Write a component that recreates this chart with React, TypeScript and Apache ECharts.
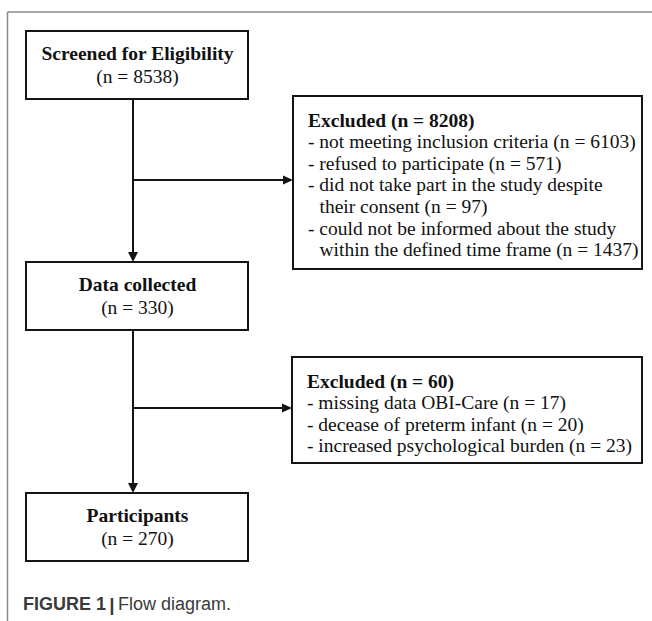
import React, { useEffect, useRef } from "react";
import * as echarts from "echarts";

// ---- data ----
const stageTitles = ["Screened for Eligibility", "Data collected", "Participants"];
const stageCounts = [8538, 330, 270];
const exclusionTotals = [8208, 60];
const exclusionReasons1 = [
  ["not meeting inclusion criteria (n = 6103)"],
  ["refused to participate (n = 571)"],
  ["did not take part in the study despite", "their consent (n = 97)"],
  ["could not be informed about the study", "within the defined time frame (n = 1437)"],
];
const exclusionReasons2 = [
  ["missing data OBI-Care (n = 17)"],
  ["decease of preterm infant (n = 20)"],
  ["increased psychological burden (n = 23)"],
];
const captionBold = "FIGURE 1";
const captionText = "Flow diagram.";

const SERIF = "'Liberation Serif', 'Times New Roman', serif";
const SANS = "'Liberation Sans', Arial, sans-serif";

export default function App() {
  const ref = useRef<HTMLDivElement>(null);
  useEffect(() => {
    if (!ref.current) return;
    const chart = echarts.init(ref.current, undefined, { renderer: "svg" });
    const els: any[] = [];
    const stroke = "#141414";
    const fs = 19.5;
    const lh = 21.6;

    // outer frame
    els.push({ type: "line", shape: { x1: 7.5, y1: 12, x2: 652, y2: 12 }, style: { stroke: "#8a8a8a", lineWidth: 1.5 } });
    els.push({ type: "line", shape: { x1: 7.5, y1: 12, x2: 7.5, y2: 621 }, style: { stroke: "#8a8a8a", lineWidth: 1.5 } });

    // main boxes
    const boxX = 26, boxW = 222, boxH = 68;
    const tops = [31, 262, 493];
    const lineX = 133;
    stageTitles.forEach((t, i) => {
      const y = tops[i];
      els.push({ type: "rect", shape: { x: boxX, y, width: boxW, height: boxH }, style: { fill: "#fff", stroke, lineWidth: 2 } });
      els.push({ type: "text", style: { text: t, x: boxX + boxW / 2 + 0.5, y: y + boxH / 2 - 11.5, font: `bold ${fs}px ${SERIF}`, fill: "#111", textAlign: "center", textVerticalAlign: "middle" } });
      els.push({ type: "text", style: { text: `(n = ${stageCounts[i]})`, x: boxX + boxW / 2 + 0.5, y: y + boxH / 2 + 11.5, font: `${fs}px ${SERIF}`, fill: "#111", textAlign: "center", textVerticalAlign: "middle" } });
    });

    // exclusion boxes
    const exBoxes = [
      { x: 293, y: 96, w: 349, h: 173, arrowY: 180 },
      { x: 292, y: 357, w: 350, h: 106, arrowY: 408 },
    ];
    const reasonsAll = [exclusionReasons1, exclusionReasons2];
    exBoxes.forEach((b, i) => {
      els.push({ type: "rect", shape: { x: b.x, y: b.y, width: b.w, height: b.h }, style: { fill: "#fff", stroke, lineWidth: 2 } });
      const tx = b.x + 15;
      let cy = b.y + 24;
      els.push({ type: "text", style: { text: `Excluded (n = ${exclusionTotals[i]})`, x: tx, y: cy, font: `bold ${fs}px ${SERIF}`, fill: "#111", textAlign: "left", textVerticalAlign: "middle" } });
      reasonsAll[i].forEach((item) => {
        item.forEach((ln, j) => {
          cy += lh;
          els.push({ type: "text", style: { text: j === 0 ? `- ${ln}` : ln, x: j === 0 ? tx : tx + 11.5, y: cy, font: `${fs}px ${SERIF}`, fill: "#111", textAlign: "left", textVerticalAlign: "middle" } });
        });
      });
    });

    // connectors
    const vArrow = (y1: number, y2: number) => {
      els.push({ type: "line", shape: { x1: lineX, y1, x2: lineX, y2: y2 - 8 }, style: { stroke, lineWidth: 2 } });
      els.push({ type: "polygon", shape: { points: [[lineX - 5, y2 - 10], [lineX + 5, y2 - 10], [lineX, y2]] }, style: { fill: stroke } });
    };
    const hArrow = (y: number, x2: number) => {
      els.push({ type: "line", shape: { x1: lineX, y1: y, x2: x2 - 8, y2: y }, style: { stroke, lineWidth: 2 } });
      els.push({ type: "polygon", shape: { points: [[x2 - 10, y - 4.5], [x2 - 10, y + 4.5], [x2, y]] }, style: { fill: stroke } });
    };
    vArrow(tops[0] + boxH, tops[1]);
    vArrow(tops[1] + boxH, tops[2]);
    hArrow(exBoxes[0].arrowY, exBoxes[0].x);
    hArrow(exBoxes[1].arrowY, exBoxes[1].x);

    // caption
    els.push({
      type: "text",
      style: {
        text: `{b|${captionBold}} {p||} {r|${captionText}}`,
        x: 23, y: 604,
        textAlign: "left", textVerticalAlign: "middle",
        rich: {
          b: { font: `bold 18px ${SANS}`, fill: "#3a3a3a" },
          p: { font: `bold 19px ${SANS}`, fill: "#3a3a3a" },
          r: { font: `18px ${SANS}`, fill: "#3a3a3a" },
        },
      },
    });

    chart.setOption({ animation: false, backgroundColor: "#fff", graphic: { elements: els } });
    return () => chart.dispose();
  }, []);
  return <div ref={ref} style={{ position: "absolute", left: 0, top: 0, width: 652, height: 621 }} />;
}
